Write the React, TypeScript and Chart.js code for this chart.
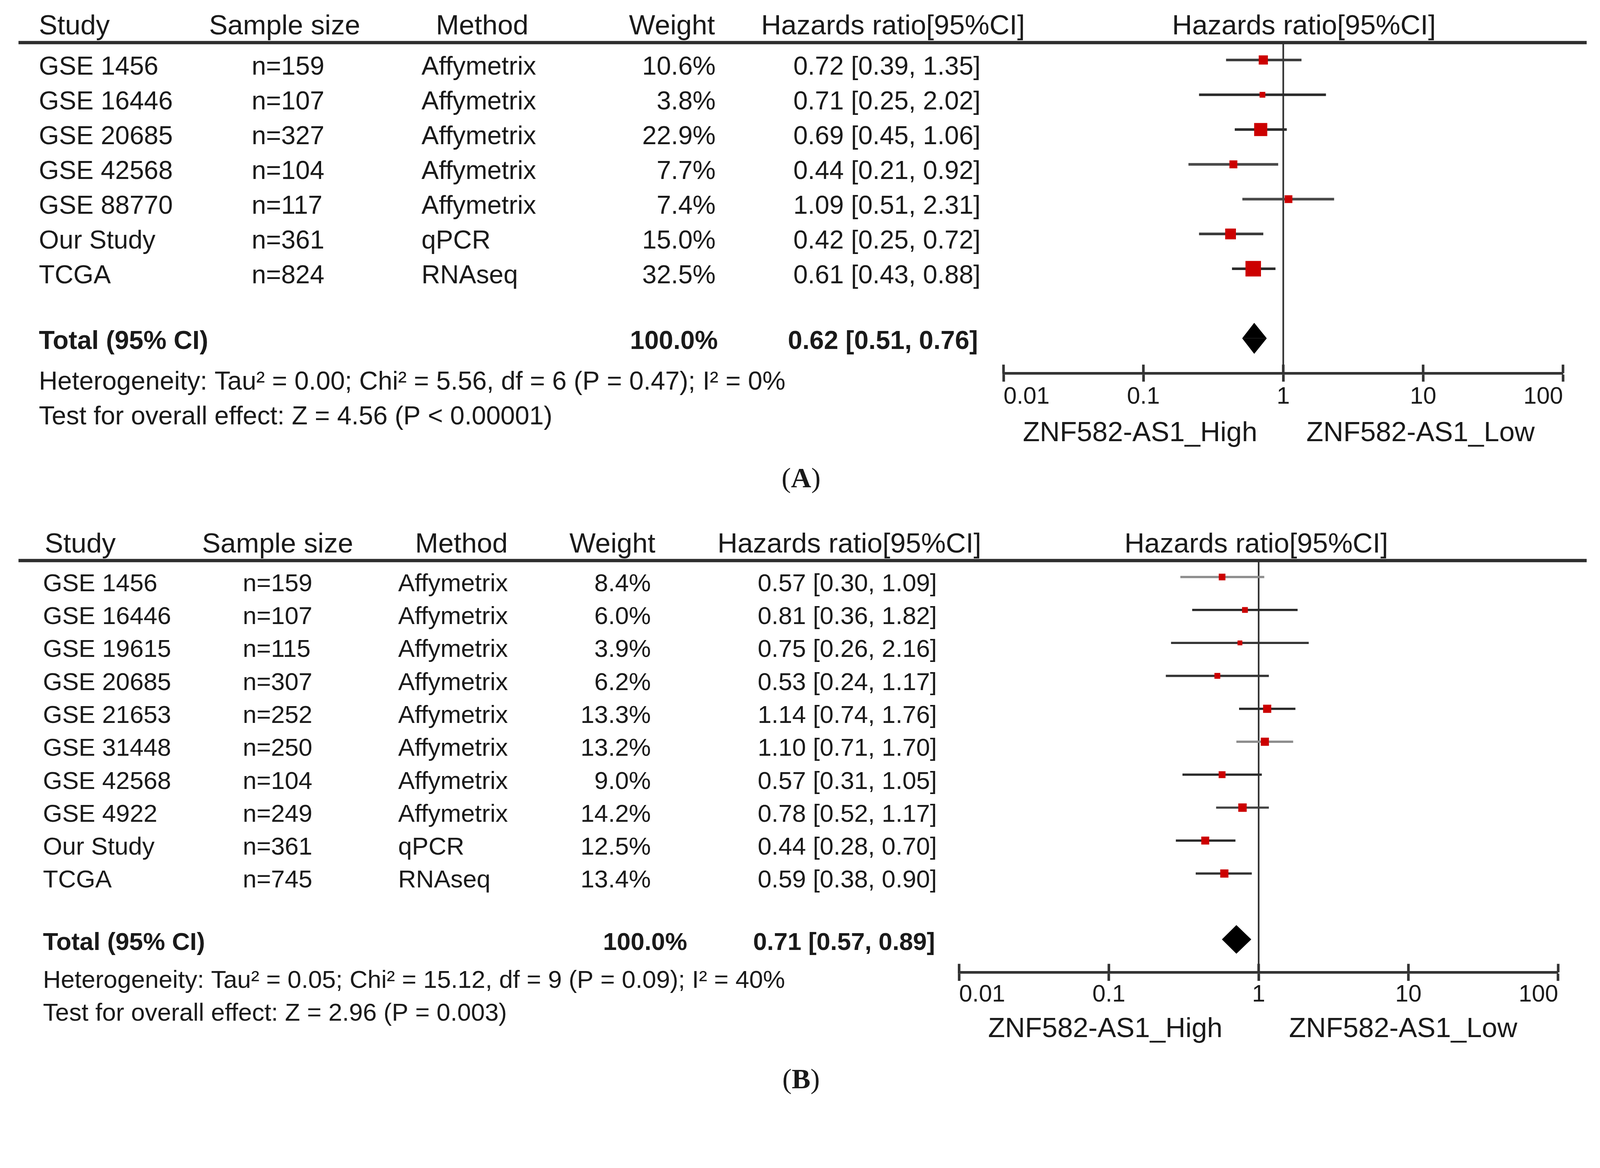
import React, { useEffect, useRef } from "react";
import { Chart, registerables } from "chart.js";

Chart.register(...registerables);

// ---------------- shared labels ----------------
const TICK_VALUES = [0.01, 0.1, 1, 10, 100];
const TICK_LABELS = ["0.01", "0.1", "1", "10", "100"];
const HEADERS = ["Study", "Sample size", "Method", "Weight", "Hazards ratio[95%CI]", "Hazards ratio[95%CI]"];
const FAVOURS = ["ZNF582-AS1_High", "ZNF582-AS1_Low"];
const TOTAL_LABEL = "Total (95% CI)";

// ---------------- panel A data ----------------
const A_STUDIES = ["GSE 1456", "GSE 16446", "GSE 20685", "GSE 42568", "GSE 88770", "Our Study", "TCGA"];
const A_SAMPLE = [159, 107, 327, 104, 117, 361, 824];
const A_METHOD = ["Affymetrix", "Affymetrix", "Affymetrix", "Affymetrix", "Affymetrix", "qPCR", "RNAseq"];
const A_WEIGHT = [10.6, 3.8, 22.9, 7.7, 7.4, 15.0, 32.5];
const A_HR = [0.72, 0.71, 0.69, 0.44, 1.09, 0.42, 0.61];
const A_LO = [0.39, 0.25, 0.45, 0.21, 0.51, 0.25, 0.43];
const A_HI = [1.35, 2.02, 1.06, 0.92, 2.31, 0.72, 0.88];
const A_TOTAL = [0.62, 0.51, 0.76]; // hr, lo, hi
const A_TOTAL_WEIGHT = 100.0;
const A_HETEROGENEITY = "Heterogeneity: Tau\u00b2 = 0.00; Chi\u00b2 = 5.56, df = 6 (P = 0.47); I\u00b2 = 0%";
const A_OVERALL = "Test for overall effect: Z = 4.56 (P < 0.00001)";

// ---------------- panel B data ----------------
const B_STUDIES = ["GSE 1456", "GSE 16446", "GSE 19615", "GSE 20685", "GSE 21653", "GSE 31448", "GSE 42568", "GSE 4922", "Our Study", "TCGA"];
const B_SAMPLE = [159, 107, 115, 307, 252, 250, 104, 249, 361, 745];
const B_METHOD = ["Affymetrix", "Affymetrix", "Affymetrix", "Affymetrix", "Affymetrix", "Affymetrix", "Affymetrix", "Affymetrix", "qPCR", "RNAseq"];
const B_WEIGHT = [8.4, 6.0, 3.9, 6.2, 13.3, 13.2, 9.0, 14.2, 12.5, 13.4];
const B_HR = [0.57, 0.81, 0.75, 0.53, 1.14, 1.10, 0.57, 0.78, 0.44, 0.59];
const B_LO = [0.30, 0.36, 0.26, 0.24, 0.74, 0.71, 0.31, 0.52, 0.28, 0.38];
const B_HI = [1.09, 1.82, 2.16, 1.17, 1.76, 1.70, 1.05, 1.17, 0.70, 0.90];
const B_TOTAL = [0.71, 0.57, 0.89];
const B_TOTAL_WEIGHT = 100.0;
const B_HETEROGENEITY = "Heterogeneity: Tau\u00b2 = 0.05; Chi\u00b2 = 15.12, df = 9 (P = 0.09); I\u00b2 = 40%";
const B_OVERALL = "Test for overall effect: Z = 2.96 (P = 0.003)";

// ---------------- styles ----------------
const PAGE_W = 4324;
const PAGE_H = 2989;
const SANS = '"Liberation Sans", Arial, Helvetica, sans-serif';
const SERIF = '"Liberation Serif", "Times New Roman", serif';
const INK = "#1a1a1a";
const LINE = "#333333";
const RED = "#cc0000";
const A_CI_SHADES = ["#3a3a3a", "#2a2a2a", "#2a2a2a", "#4a4a4a", "#4a4a4a", "#3a3a3a", "#2a2a2a"];
const B_CI_SHADES = ["#8c8c8c", "#2a2a2a", "#333333", "#333333", "#2a2a2a", "#8c8c8c", "#2a2a2a", "#444444", "#2a2a2a", "#333333"];

const LAYOUT_A = {
  top: 0, height: 1400, axisY: 1008, rowH: 94, xLeft: 2712, xRight: 4224,
  headerFont: 75, rowFont: 70, tickFont: 64, favFont: 75, tickPad: 3,
  studyX: 105, nX: 680, methodX: 1139, weightR: 1934, hrR: 2650, totWeightR: 1940, totHrR: 2643,
  hStudy: 105, hSample: 565, hMethod: 1178, hWeight: 1700, hHr: 2057, hHr2C: 3524, headerDy: 22,
  lineX0: 50, lineX1: 4288, favX: [3081, 3839], favDy: 184,
  panelLabel: "A", panelLabelX: 2165, panelLabelY: 1316,
  sqK: 7.0, sqB: 2.0, ciW: 7, diamondH: 0.44,
};
const LAYOUT_B = {
  top: 1400, height: 1589, axisY: 1227, rowH: 89, xLeft: 2592, xRight: 4211,
  headerFont: 75, rowFont: 67, tickFont: 64, favFont: 75, tickPad: 0,
  studyX: 116, nX: 656, methodX: 1076, weightR: 1759, hrR: 2532, totWeightR: 1857, totHrR: 2527,
  hStudy: 121, hSample: 546, hMethod: 1122, hWeight: 1539, hHr: 1939, hHr2C: 3395, headerDy: 22,
  lineX0: 50, lineX1: 4288, favX: [2987, 3792], favDy: 175,
  panelLabel: "B", panelLabelX: 2165, panelLabelY: 1540,
  sqK: 5.4, sqB: 2.4, ciW: 6, diamondH: 0.43,
};

type Panel = {
  studies: string[]; sample: number[]; method: string[]; weight: number[];
  hr: number[]; lo: number[]; hi: number[]; total: number[]; totalWeight: number;
  het: string; overall: string; shades: string[]; L: typeof LAYOUT_A;
};

const PANEL_A: Panel = {
  studies: A_STUDIES, sample: A_SAMPLE, method: A_METHOD, weight: A_WEIGHT,
  hr: A_HR, lo: A_LO, hi: A_HI, total: A_TOTAL, totalWeight: A_TOTAL_WEIGHT,
  het: A_HETEROGENEITY, overall: A_OVERALL, shades: A_CI_SHADES, L: LAYOUT_A,
};
const PANEL_B: Panel = {
  studies: B_STUDIES, sample: B_SAMPLE, method: B_METHOD, weight: B_WEIGHT,
  hr: B_HR, lo: B_LO, hi: B_HI, total: B_TOTAL, totalWeight: B_TOTAL_WEIGHT,
  het: B_HETEROGENEITY, overall: B_OVERALL, shades: B_CI_SHADES, L: LAYOUT_B,
};

const TICK_LEN = 23;

const fmtCI = (h: number, l: number, u: number) => `${h.toFixed(2)} [${l.toFixed(2)}, ${u.toFixed(2)}]`;

function viewScale(): number {
  if (typeof window === "undefined") return 1;
  const w = document.documentElement.clientWidth || window.innerWidth || PAGE_W;
  const h = window.innerHeight || PAGE_H;
  const s = Math.min(w / PAGE_W, h / PAGE_H);
  return s > 0 && isFinite(s) ? s : 1;
}

function buildDatasets(p: Panel): any[] {
  const n = p.studies.length;
  const t = n + 2;
  const L = p.L;
  const ds: any[] = [];
  // squares (drawn on top -> first)
  ds.push({
    data: p.hr.map((h, i) => ({ x: h, y: i + 1 })),
    pointStyle: "rect",
    pointRadius: p.weight.map((w) => (L.sqK * Math.sqrt(w) + L.sqB) / Math.SQRT2),
    backgroundColor: RED,
    borderColor: RED,
    borderWidth: 0,
    showLine: false,
    clip: false,
  });
  // pooled diamond (upper and lower halves filled to the row line)
  ds.push({
    data: [{ x: p.total[1], y: t }, { x: p.total[0], y: t - L.diamondH }, { x: p.total[2], y: t }],
    showLine: true, fill: { value: t }, backgroundColor: "#000", borderColor: "#000",
    borderWidth: 1, pointRadius: 0, tension: 0, clip: false,
  });
  ds.push({
    data: [{ x: p.total[1], y: t }, { x: p.total[0], y: t + L.diamondH }, { x: p.total[2], y: t }],
    showLine: true, fill: { value: t }, backgroundColor: "#000", borderColor: "#000",
    borderWidth: 1, pointRadius: 0, tension: 0, clip: false,
  });
  // confidence intervals
  p.hr.forEach((_, i) => {
    ds.push({
      data: [{ x: p.lo[i], y: i + 1 }, { x: p.hi[i], y: i + 1 }],
      showLine: true, borderColor: p.shades[i], borderWidth: L.ciW, pointRadius: 0,
      borderCapStyle: "butt", clip: false,
    });
  });
  // line of no effect (HR = 1)
  ds.push({
    data: [{ x: 1, y: 0.5 }, { x: 1, y: n + 3 }],
    showLine: true, borderColor: LINE, borderWidth: 4.5, pointRadius: 0, clip: false,
  });
  return ds;
}

function tablePlugin(p: Panel) {
  const L = p.L;
  const n = p.studies.length;
  const text = (ctx: CanvasRenderingContext2D, s: string, x: number, y: number, size: number,
    align: CanvasTextAlign = "left", weight = "normal", family = SANS) => {
    ctx.font = `${weight} ${size}px ${family}`;
    ctx.textAlign = align;
    ctx.textBaseline = "alphabetic";
    ctx.fillStyle = INK;
    ctx.fillText(s, x, y);
  };
  return {
    id: "forestTable",
    beforeDatasetsDraw(chart: any) {
      const ctx: CanvasRenderingContext2D = chart.ctx;
      const ys = chart.scales.y;
      const yLine = ys.getPixelForValue(0.5);
      ctx.save();
      ctx.strokeStyle = "#2e2e2e";
      ctx.lineWidth = 9;
      ctx.beginPath();
      ctx.moveTo(L.lineX0, yLine);
      ctx.lineTo(L.lineX1, yLine);
      ctx.stroke();
      ctx.restore();
    },
    afterDraw(chart: any) {
      const ctx: CanvasRenderingContext2D = chart.ctx;
      const ys = chart.scales.y;
      const xs = chart.scales.x;
      ctx.save();
      // upper halves of the axis tick marks
      ctx.strokeStyle = LINE;
      ctx.lineWidth = 7;
      TICK_VALUES.forEach((v) => {
        const px = xs.getPixelForValue(v);
        ctx.beginPath();
        ctx.moveTo(px, xs.top - TICK_LEN);
        ctx.lineTo(px, xs.top);
        ctx.stroke();
      });
      // header
      const hy = ys.getPixelForValue(0.5) - L.headerDy;
      text(ctx, HEADERS[0], L.hStudy, hy, L.headerFont);
      text(ctx, HEADERS[1], L.hSample, hy, L.headerFont);
      text(ctx, HEADERS[2], L.hMethod, hy, L.headerFont);
      text(ctx, HEADERS[3], L.hWeight, hy, L.headerFont);
      text(ctx, HEADERS[4], L.hHr, hy, L.headerFont);
      text(ctx, HEADERS[5], L.hHr2C, hy, L.headerFont, "center");
      // study rows
      const rowBase = (r: number) => ys.getPixelForValue(r) + 14 + 0.36 * L.rowFont;
      p.studies.forEach((s, i) => {
        const y = rowBase(i + 1);
        text(ctx, s, L.studyX, y, L.rowFont);
        text(ctx, `n=${p.sample[i]}`, L.nX, y, L.rowFont);
        text(ctx, p.method[i], L.methodX, y, L.rowFont);
        text(ctx, `${p.weight[i].toFixed(1)}%`, L.weightR, y, L.rowFont, "right");
        text(ctx, fmtCI(p.hr[i], p.lo[i], p.hi[i]), L.hrR, y, L.rowFont, "right");
      });
      // total row
      const t = n + 2;
      const ty = ys.getPixelForValue(t) + 0.36 * L.rowFont + 4;
      text(ctx, TOTAL_LABEL, L.studyX, ty, L.rowFont, "left", "bold");
      text(ctx, `${p.totalWeight.toFixed(1)}%`, L.totWeightR, ty, L.rowFont, "right", "bold");
      text(ctx, fmtCI(p.total[0], p.total[1], p.total[2]), L.totHrR, ty, L.rowFont, "right", "bold");
      // heterogeneity & overall effect
      text(ctx, p.het, L.studyX, ys.getPixelForValue(t + 1.47), L.rowFont);
      text(ctx, p.overall, L.studyX, ys.getPixelForValue(t + 2.47), L.rowFont);
      // favours labels
      const fy = xs.top + L.favDy;
      text(ctx, FAVOURS[0], L.favX[0], fy, L.favFont, "center");
      text(ctx, FAVOURS[1], L.favX[1], fy, L.favFont, "center");
      // panel label "(A)" / "(B)"
      const size = 76;
      ctx.font = `normal ${size}px ${SERIF}`;
      const wP = ctx.measureText("(").width;
      const wP2 = ctx.measureText(")").width;
      ctx.font = `bold ${size}px ${SERIF}`;
      const wL = ctx.measureText(L.panelLabel).width;
      let x0 = L.panelLabelX - (wP + wL + wP2) / 2;
      text(ctx, "(", x0, L.panelLabelY, size, "left", "normal", SERIF);
      x0 += wP;
      text(ctx, L.panelLabel, x0, L.panelLabelY, size, "left", "bold", SERIF);
      x0 += wL;
      text(ctx, ")", x0, L.panelLabelY, size, "left", "normal", SERIF);
      ctx.restore();
    },
  };
}

function ForestPanel({ p, s }: { p: Panel; s: number }) {
  const ref = useRef<HTMLCanvasElement | null>(null);
  useEffect(() => {
    const canvas = ref.current;
    if (!canvas) return;
    const L = p.L;
    const n = p.studies.length;
    const axisBlock = TICK_LEN + L.tickFont * 1.2 + 2 * L.tickPad;
    const dpr = (window.devicePixelRatio || 1) * s;
    const chart = new Chart(canvas, {
      type: "scatter",
      data: { datasets: buildDatasets(p) },
      options: {
        animation: false,
        responsive: false,
        maintainAspectRatio: false,
        devicePixelRatio: dpr,
        events: [],
        layout: {
          padding: {
            left: L.xLeft,
            right: PAGE_W - L.xRight,
            top: L.axisY - (n + 3) * L.rowH,
            bottom: L.height - L.axisY - axisBlock,
          },
        },
        plugins: {
          legend: { display: false },
          tooltip: { enabled: false },
          title: { display: false },
        },
        scales: {
          x: {
            type: "logarithmic",
            position: "bottom",
            min: 0.01,
            max: 100,
            afterBuildTicks: (sc: any) => {
              sc.ticks = TICK_VALUES.map((v) => ({ value: v }));
            },
            ticks: {
              callback: (_v: any, i: number) => TICK_LABELS[i],
              align: "inner",
              autoSkip: false,
              maxRotation: 0,
              minRotation: 0,
              padding: L.tickPad,
              color: INK,
              font: { family: SANS, size: L.tickFont },
            },
            grid: {
              display: true,
              drawOnChartArea: false,
              drawTicks: true,
              tickLength: TICK_LEN,
              tickWidth: 7,
              tickColor: LINE,
            },
            border: { display: true, color: LINE, width: 7 },
          },
          y: { type: "linear", min: 0, max: n + 3, reverse: true, display: false },
        },
      } as any,
      plugins: [tablePlugin(p)],
    });
    return () => chart.destroy();
  }, [p, s]);
  return (
    <canvas
      ref={ref}
      width={PAGE_W}
      height={p.L.height}
      style={{
        position: "absolute",
        left: 0,
        top: p.L.top * s,
        width: PAGE_W * s,
        height: p.L.height * s,
      }}
    />
  );
}

export default function App() {
  const s = viewScale();
  useEffect(() => {
    document.body.style.margin = "0";
    document.body.style.background = "#ffffff";
    document.body.style.overflow = "hidden";
  }, []);
  return (
    <div style={{ position: "relative", width: PAGE_W * s, height: PAGE_H * s, background: "#ffffff", overflow: "hidden" }}>
      <ForestPanel p={PANEL_A} s={s} />
      <ForestPanel p={PANEL_B} s={s} />
    </div>
  );
}
